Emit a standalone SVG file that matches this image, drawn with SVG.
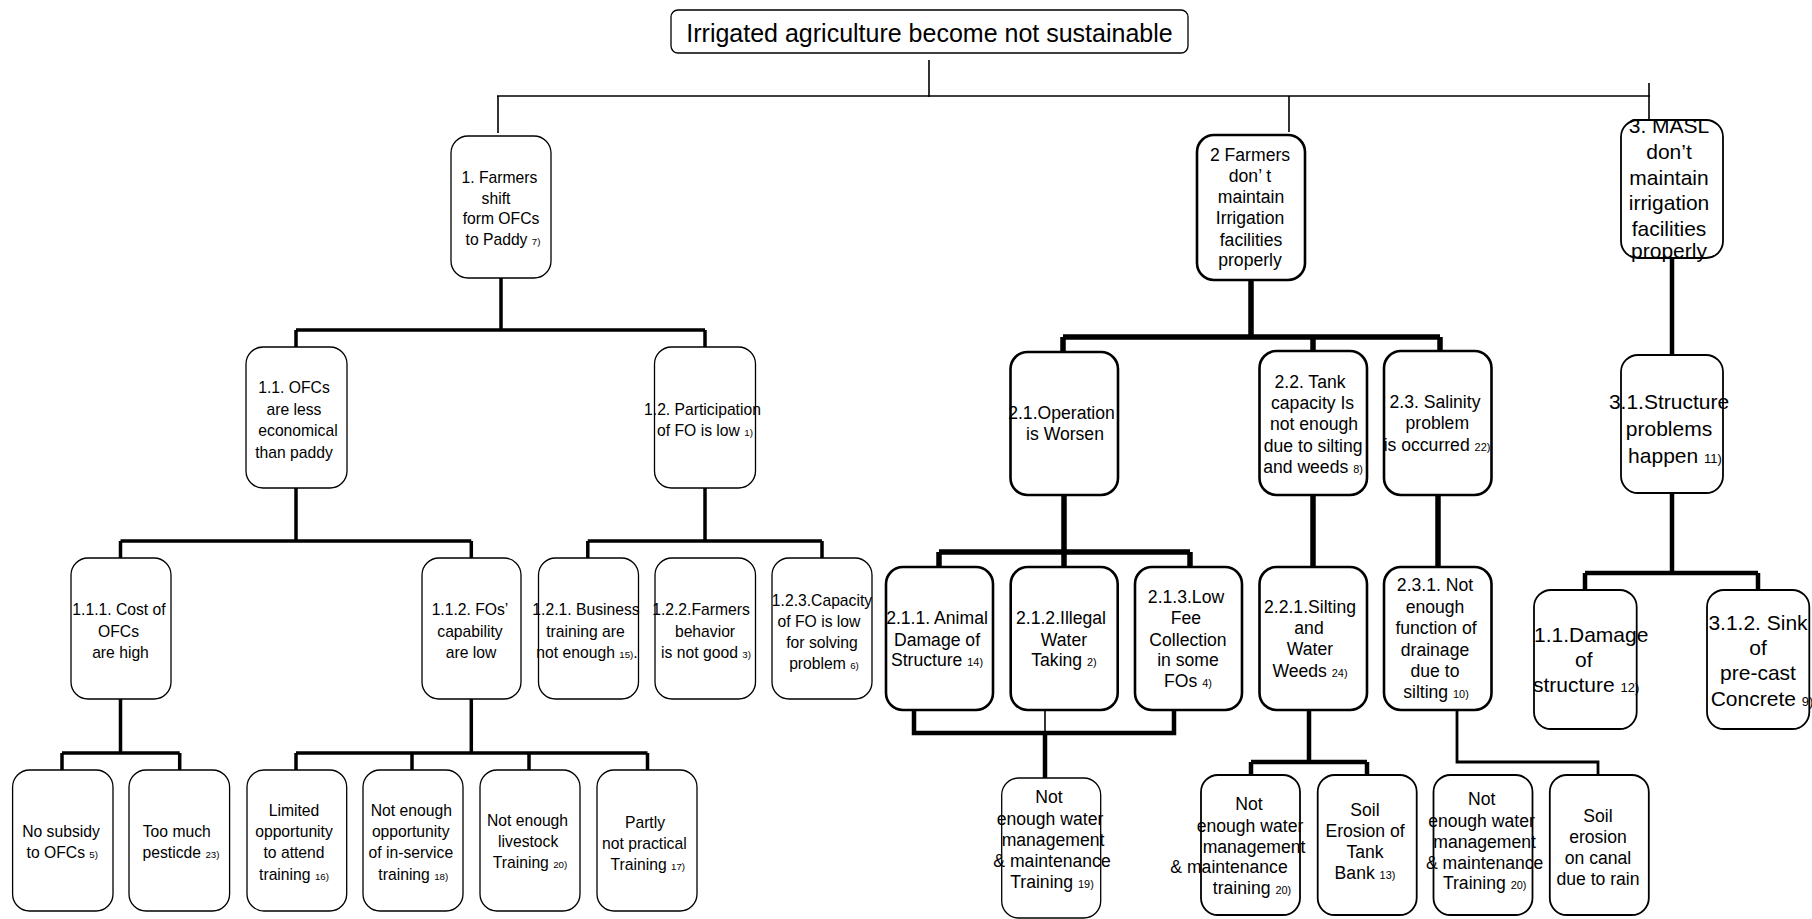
<svg xmlns="http://www.w3.org/2000/svg" width="1812" height="919" viewBox="0 0 1812 919">
<style>
text{font-family:"Liberation Sans",Arial,sans-serif;fill:#000;text-anchor:middle}
.a{font-size:15.7px}
.b{font-size:17.6px}
.c{font-size:21px}
.r{font-size:25px}
.n{font-size:0.62em}
.bx{fill:#fff;stroke:#000;stroke-width:1.3}
.bx2{fill:#fff;stroke:#000;stroke-width:2.6}
.bx3{fill:#fff;stroke:#000;stroke-width:1.8}
.l1{fill:none;stroke:#000;stroke-width:1.6}
.l3{fill:none;stroke:#000;stroke-width:3.5}
.l5{fill:none;stroke:#000;stroke-width:5.5}
.l4{fill:none;stroke:#000;stroke-width:4.5}
.l2{fill:none;stroke:#000;stroke-width:2.8}
</style>
<rect width="1812" height="919" fill="#fff"/>
<g id="connectors">
  <path class="l1" d="M929 60V97M497 96H1650M498 96V133M1289 96V132M1649 83V120"/>
  <path class="l3" d="M501 278V330M296 330H705M296 330V347M705 330V347"/>
  <path class="l3" d="M296 488V541M120.5 541H471.3M120.5 541V558M471.3 541V558"/>
  <path class="l3" d="M705 488V541M587.8 541H822M587.8 541V558M822 541V558"/>
  <path class="l3" d="M120.5 699V753M62 753H179.7M62 753V770M179.7 753V770"/>
  <path class="l3" d="M471.3 699V753M296 753H647.5M296 753V770M412 753V770M529 753V770M647.5 753V770"/>
  <path class="l5" d="M1251 280V337M1063 337H1440M1063 337V352M1313 337V351M1440 337V351"/>
  <path class="l5" d="M1064 495V552M939 552H1190M939 552V567M1064 552V567M1190 552V567"/>
  <path class="l5" d="M1313 495V567M1438 495V567"/>
  <path class="l4" d="M914 710V733H1174V710"/>
  <path class="l1" d="M1045 703V733"/>
  <path class="l4" d="M1045 733V778"/>
  <path class="l4" d="M1309 705V762M1251 762H1367M1251 762V775M1367 762V775"/>
  <path class="l2" d="M1457 705V762H1598V775"/>
  <path class="l4" d="M1672 258V355M1672 493V573M1585 573H1758M1585 573V590M1758 573V590"/>
</g>
<g id="root">
  <rect class="bx" x="671" y="10" width="517" height="43" rx="7"/>
  <text class="r" x="929.5" y="42">Irrigated agriculture become not sustainable</text>
</g>
<g id="n1">
  <rect class="bx" x="451" y="136" width="100" height="142" rx="17"/>
  <text class="a"><tspan x="499.5" y="182.5">1. Farmers</tspan><tspan x="496" y="203.5">shift</tspan><tspan x="501" y="224">form OFCs</tspan><tspan x="503" y="244.5">to Paddy <tspan class="n">7)</tspan></tspan></text>
</g>
<g id="n2">
  <rect class="bx2" x="1197" y="135" width="108" height="145" rx="17"/>
  <text class="b"><tspan x="1250" y="161">2 Farmers</tspan><tspan x="1250" y="182">don’ t</tspan><tspan x="1251" y="203">maintain</tspan><tspan x="1250" y="224">Irrigation</tspan><tspan x="1251" y="245.5">facilities</tspan><tspan x="1250" y="266">properly</tspan></text>
</g>
<g id="n3">
  <rect class="bx3" x="1621" y="120" width="102" height="138" rx="17"/>
  <text class="c"><tspan x="1669" y="133">3. MASL</tspan><tspan x="1669" y="159">don’t</tspan><tspan x="1669" y="185">maintain</tspan><tspan x="1669" y="210">irrigation</tspan><tspan x="1669" y="236">facilities</tspan><tspan x="1669" y="258">properly</tspan></text>
</g>
<g id="n1-1">
  <rect class="bx" x="246" y="347" width="101" height="141" rx="17"/>
  <text class="a"><tspan x="294" y="392.5">1.1. OFCs</tspan><tspan x="294" y="414.5">are less</tspan><tspan x="298" y="435.5">economical</tspan><tspan x="294" y="457.5">than paddy</tspan></text>
</g>
<g id="n1-2">
  <rect class="bx" x="654.5" y="347" width="101" height="141" rx="17"/>
  <text class="a"><tspan x="702.5" y="414.5">1.2. Participation</tspan><tspan x="705" y="435.5">of FO is low <tspan class="n">1)</tspan></tspan></text>
</g>
<g id="n1-1-1">
  <rect class="bx" x="71" y="558" width="100" height="141" rx="17"/>
  <text class="a"><tspan x="119" y="614.5">1.1.1. Cost of</tspan><tspan x="118.5" y="636.5">OFCs</tspan><tspan x="120.5" y="657.5">are high</tspan></text>
</g>
<g id="n1-1-2">
  <rect class="bx" x="422" y="558" width="99" height="141" rx="17"/>
  <text class="a"><tspan x="470" y="614.5">1.1.2. FOs’</tspan><tspan x="470" y="636.5">capability</tspan><tspan x="471" y="657.5">are low</tspan></text>
</g>
<g id="n1-2-1">
  <rect class="bx" x="538.5" y="558" width="100" height="141" rx="17"/>
  <text class="a"><tspan x="586" y="614.5">1.2.1. Business</tspan><tspan x="585.5" y="636.5">training are</tspan><tspan x="587" y="657.5">not enough <tspan class="n">15)</tspan>.</tspan></text>
</g>
<g id="n1-2-2">
  <rect class="bx" x="655" y="558" width="100.5" height="141" rx="17"/>
  <text class="a"><tspan x="701" y="614.5">1.2.2.Farmers</tspan><tspan x="705" y="636.5">behavior</tspan><tspan x="706" y="657.5">is not good <tspan class="n">3)</tspan></tspan></text>
</g>
<g id="n1-2-3">
  <rect class="bx" x="772" y="558" width="100" height="141" rx="17"/>
  <text class="a"><tspan x="822" y="605.5">1.2.3.Capacity</tspan><tspan x="819" y="626.5">of FO is low</tspan><tspan x="822" y="647.5">for solving</tspan><tspan x="824" y="668.5">problem <tspan class="n">6)</tspan></tspan></text>
</g>
<g id="n1-1-1-1">
  <rect class="bx" x="12.6" y="770" width="100.4" height="141" rx="17"/>
  <text class="a"><tspan x="61" y="837.2">No subsidy</tspan><tspan x="62.3" y="857.8">to OFCs <tspan class="n">5)</tspan></tspan></text>
</g>
<g id="n1-1-1-2">
  <rect class="bx" x="129" y="770" width="100.6" height="141" rx="17"/>
  <text class="a"><tspan x="176.8" y="837.2">Too much</tspan><tspan x="181" y="857.8">pesticde <tspan class="n">23)</tspan></tspan></text>
</g>
<g id="n1-1-2-1">
  <rect class="bx" x="247" y="770" width="99.7" height="141" rx="17"/>
  <text class="a"><tspan x="294" y="815.5">Limited</tspan><tspan x="294" y="836.5">opportunity</tspan><tspan x="294" y="857.5">to attend</tspan><tspan x="294" y="879.5">training <tspan class="n">16)</tspan></tspan></text>
</g>
<g id="n1-1-2-2">
  <rect class="bx" x="363" y="770" width="100" height="141" rx="17"/>
  <text class="a"><tspan x="411.3" y="815.5">Not enough</tspan><tspan x="410.7" y="836.5">opportunity</tspan><tspan x="410.9" y="857.5">of in-service</tspan><tspan x="413.3" y="879.5">training <tspan class="n">18)</tspan></tspan></text>
</g>
<g id="n1-1-2-3">
  <rect class="bx" x="480" y="770" width="100" height="141" rx="17"/>
  <text class="a"><tspan x="527.5" y="825.5">Not enough</tspan><tspan x="528.2" y="846.5">livestock</tspan><tspan x="530" y="867.5">Training <tspan class="n">20)</tspan></tspan></text>
</g>
<g id="n1-1-2-4">
  <rect class="bx" x="597" y="770" width="100" height="141" rx="17"/>
  <text class="a"><tspan x="645" y="827.5">Partly</tspan><tspan x="644.4" y="848.5">not practical</tspan><tspan x="647.8" y="869.5">Training <tspan class="n">17)</tspan></tspan></text>
</g>
<g id="n2-1">
  <rect class="bx2" x="1010.5" y="352" width="107.5" height="143" rx="17"/>
  <text class="b"><tspan x="1061.5" y="419.4">2.1.Operation</tspan><tspan x="1065" y="440.4">is Worsen</tspan></text>
</g>
<g id="n2-2">
  <rect class="bx2" x="1259.5" y="351" width="107.5" height="144" rx="17"/>
  <text class="b"><tspan x="1310" y="388.4">2.2. Tank</tspan><tspan x="1312.6" y="409.4">capacity Is</tspan><tspan x="1314" y="430.4">not enough</tspan><tspan x="1313.2" y="452">due to silting</tspan><tspan x="1313" y="473.4">and weeds <tspan class="n">8)</tspan></tspan></text>
</g>
<g id="n2-3">
  <rect class="bx2" x="1384" y="351" width="107.5" height="144" rx="17"/>
  <text class="b"><tspan x="1435" y="408.4">2.3. Salinity</tspan><tspan x="1437.3" y="429.4">problem</tspan><tspan x="1437" y="451.4">is occurred <tspan class="n">22)</tspan></tspan></text>
</g>
<g id="n3-1">
  <rect class="bx3" x="1621" y="355" width="102" height="138" rx="17"/>
  <text class="c"><tspan x="1669" y="408.5">3.1.Structure</tspan><tspan x="1669" y="435.5">problems</tspan><tspan x="1675" y="462.5">happen <tspan class="n">11)</tspan></tspan></text>
</g>
<g id="n2-1-1">
  <rect class="bx2" x="886" y="567" width="107" height="143" rx="17"/>
  <text class="b"><tspan x="937" y="624">2.1.1. Animal</tspan><tspan x="937" y="645.5">Damage of</tspan><tspan x="937" y="666">Structure <tspan class="n">14)</tspan></tspan></text>
</g>
<g id="n2-1-2">
  <rect class="bx2" x="1010.7" y="567" width="107" height="143" rx="17"/>
  <text class="b"><tspan x="1061" y="624">2.1.2.Illegal</tspan><tspan x="1064" y="645.5">Water</tspan><tspan x="1064" y="666">Taking <tspan class="n">2)</tspan></tspan></text>
</g>
<g id="n2-1-3">
  <rect class="bx2" x="1135" y="567" width="107" height="143" rx="17"/>
  <text class="b"><tspan x="1186" y="602.5">2.1.3.Low</tspan><tspan x="1186" y="624">Fee</tspan><tspan x="1188" y="645.5">Collection</tspan><tspan x="1188" y="666">in some</tspan><tspan x="1188" y="687">FOs <tspan class="n">4)</tspan></tspan></text>
</g>
<g id="n2-2-1">
  <rect class="bx2" x="1259.5" y="567" width="107.5" height="143" rx="17"/>
  <text class="b"><tspan x="1310" y="613.4">2.2.1.Silting</tspan><tspan x="1309" y="634.4">and</tspan><tspan x="1310" y="655.4">Water</tspan><tspan x="1310" y="677.4">Weeds <tspan class="n">24)</tspan></tspan></text>
</g>
<g id="n2-3-1">
  <rect class="bx2" x="1384" y="567" width="107.5" height="143" rx="17"/>
  <text class="b"><tspan x="1435" y="591.4">2.3.1. Not</tspan><tspan x="1435" y="613.4">enough</tspan><tspan x="1436" y="634.4">function of</tspan><tspan x="1435" y="656.4">drainage</tspan><tspan x="1435" y="677.4">due to</tspan><tspan x="1436" y="698.4">silting <tspan class="n">10)</tspan></tspan></text>
</g>
<g id="n3-1-1">
  <rect class="bx3" x="1534" y="590" width="102.7" height="139" rx="17"/>
  <text class="c" style="text-anchor:start"><tspan x="1534" y="641.7">1.1.Damage</tspan><tspan x="1575" y="667">of</tspan><tspan x="1533" y="691.7">structure <tspan class="n">12)</tspan></tspan></text>
</g>
<g id="n3-1-2">
  <rect class="bx3" x="1707" y="590" width="102.3" height="139" rx="17"/>
  <text class="c"><tspan x="1758" y="630">3.1.2. Sink</tspan><tspan x="1758" y="655">of</tspan><tspan x="1758" y="680">pre-cast</tspan><tspan x="1762" y="705.7">Concrete <tspan class="n">9)</tspan></tspan></text>
</g>
<g id="n2-1-x">
  <rect class="bx" x="1001.7" y="778" width="99" height="140" rx="17"/>
  <text class="b"><tspan x="1049" y="803">Not</tspan><tspan x="1050" y="825">enough water</tspan><tspan x="1053" y="846">management</tspan><tspan x="1052" y="867">&amp; maintenance</tspan><tspan x="1052" y="888">Training <tspan class="n">19)</tspan></tspan></text>
</g>
<g id="n2-2-1-1">
  <rect class="bx3" x="1201" y="775" width="99" height="140" rx="17"/>
  <text class="b"><tspan x="1249" y="810">Not</tspan><tspan x="1250" y="832">enough water</tspan><tspan x="1254" y="853">management</tspan><tspan x="1229" y="873">&amp; maintenance</tspan><tspan x="1252" y="894">training <tspan class="n">20)</tspan></tspan></text>
</g>
<g id="n2-2-1-2">
  <rect class="bx3" x="1317.7" y="775" width="99" height="140" rx="17"/>
  <text class="b"><tspan x="1365" y="816">Soil</tspan><tspan x="1365" y="837">Erosion of</tspan><tspan x="1365" y="858">Tank</tspan><tspan x="1365" y="879">Bank <tspan class="n">13)</tspan></tspan></text>
</g>
<g id="n2-3-1-1">
  <rect class="bx3" x="1433.5" y="775" width="99" height="140" rx="17"/>
  <text class="b"><tspan x="1481.7" y="805">Not</tspan><tspan x="1481.5" y="827">enough water</tspan><tspan x="1484.6" y="848">management</tspan><tspan x="1484.7" y="869">&amp; maintenance</tspan><tspan x="1484.7" y="889">Training <tspan class="n">20)</tspan></tspan></text>
</g>
<g id="n2-3-1-2">
  <rect class="bx3" x="1549.8" y="775" width="99" height="140" rx="17"/>
  <text class="b"><tspan x="1598" y="822">Soil</tspan><tspan x="1598" y="843">erosion</tspan><tspan x="1598" y="864">on canal</tspan><tspan x="1598" y="885">due to rain</tspan></text>
</g>
</svg>
